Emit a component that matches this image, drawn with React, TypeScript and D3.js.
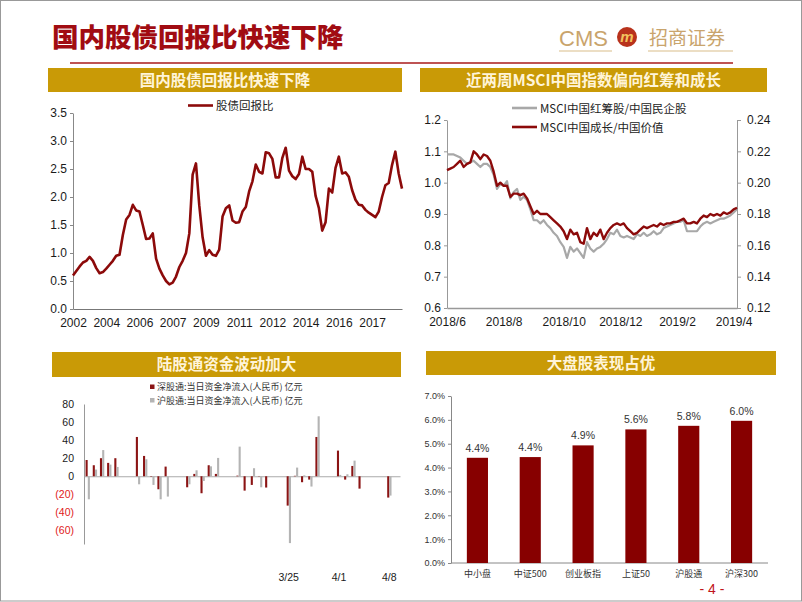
import { useEffect, useRef } from 'react';
import * as d3 from 'd3';

const RED = '#8c0a0a';
const GOLD = '#c99a06';
const GRAY = '#a8a8a8';
const SANS = '"Liberation Sans", Arial, sans-serif';
const CJK = '"Noto Sans CJK SC", sans-serif';

// panel 1: 股债回报比
const ratioTicks = ['2002', '2004', '2006', '2007', '2009', '2011', '2012', '2014', '2016', '2017'];
const stockBondRatio = [
  0.60, 0.68, 0.76, 0.83, 0.86, 0.93, 0.86, 0.73, 0.64, 0.66,
  0.72, 0.79, 0.86, 0.95, 0.97, 1.32, 1.60, 1.68, 1.86, 1.76,
  1.74, 1.50, 1.25, 1.26, 1.35, 0.90, 0.72, 0.60, 0.50, 0.44,
  0.47, 0.58, 0.75, 0.86, 1.00, 1.35, 2.40, 2.60, 1.85, 1.28,
  0.95, 1.05, 0.97, 0.95, 1.06, 1.65, 1.80, 1.85, 1.58, 1.54,
  1.55, 1.74, 1.82, 2.10, 2.28, 2.58, 2.45, 2.42, 2.80, 2.78,
  2.68, 2.35, 2.35, 2.70, 2.88, 2.47, 2.37, 2.32, 2.41, 2.72,
  2.50, 2.50, 2.45, 2.02, 1.80, 1.40, 1.55, 2.15, 2.08, 2.52,
  2.72, 2.42, 2.44, 2.36, 2.12, 1.95, 1.86, 1.85, 1.77, 1.72,
  1.68, 1.64, 1.74, 2.00, 2.21, 2.25, 2.57, 2.81, 2.42, 2.15,
];

// panel 2: MSCI
const msciTicks = ['2018/6', '2018/8', '2018/10', '2018/12', '2019/2', '2019/4'];
const msciTickIdx = [0, 17, 35, 52, 69, 86];
const redChipVsPrivate = [
  1.09, 1.09, 1.09, 1.085, 1.08, 1.07, 1.06, 1.065, 1.07, 1.06,
  1.05, 1.06, 1.06, 1.05, 1.025, 0.98, 0.995, 0.99, 1.005, 0.95,
  0.97, 0.98, 0.945, 0.955, 0.945, 0.915, 0.88, 0.88, 0.87, 0.88,
  0.865, 0.855, 0.84, 0.83, 0.81, 0.795, 0.76, 0.795, 0.78, 0.79,
  0.775, 0.76, 0.81, 0.79, 0.78, 0.79, 0.795, 0.805, 0.82, 0.84,
  0.835, 0.85, 0.83, 0.825, 0.83, 0.825, 0.82, 0.835, 0.83, 0.84,
  0.83, 0.835, 0.845, 0.835, 0.84, 0.855, 0.86, 0.865, 0.87, 0.875,
  0.875, 0.88, 0.845, 0.845, 0.845, 0.845, 0.86, 0.87, 0.875, 0.87,
  0.875, 0.88, 0.885, 0.885, 0.89, 0.895, 0.905, 0.915,
];
const growthVsValue = [
  0.208, 0.209, 0.210, 0.212, 0.214, 0.210, 0.212, 0.213, 0.220, 0.218,
  0.215, 0.218, 0.217, 0.214, 0.207, 0.198, 0.200, 0.198, 0.198, 0.191,
  0.193, 0.193, 0.192, 0.193, 0.190, 0.185, 0.180, 0.182, 0.180, 0.180,
  0.180, 0.178, 0.176, 0.174, 0.172, 0.169, 0.164, 0.170, 0.167, 0.168,
  0.162, 0.161, 0.171, 0.164, 0.168, 0.166, 0.170, 0.164, 0.168, 0.171,
  0.173, 0.174, 0.173, 0.174, 0.171, 0.169, 0.167, 0.168, 0.170, 0.172,
  0.171, 0.172, 0.173, 0.172, 0.174, 0.173, 0.174, 0.174, 0.175, 0.175,
  0.176, 0.177, 0.174, 0.174, 0.175, 0.174, 0.177, 0.179, 0.178, 0.180,
  0.179, 0.180, 0.179, 0.181, 0.180, 0.181, 0.183, 0.184,
];

// panel 3: 陆股通
const flowDates = [
  '2/25', '2/26', '2/27', '2/28', '3/1', '3/4', '3/5', '3/6', '3/7', '3/8',
  '3/11', '3/12', '3/13', '3/14', '3/15', '3/18', '3/19', '3/20', '3/21', '3/22',
  '3/25', '3/26', '3/27', '3/28', '3/29', '4/1', '4/2', '4/3', '4/4', '4/8',
];
const szConnect = [
  18, 12.2, 20, 14.8, 20, 43.5, 22.5, -0.5, -14.4, 10.7,
  -12.2, 2.6, -18.8, 12.2, 2.6, 0.7, -15.9, -9.6, 0.3, -12.5,
  -32.5, 0.5, -6.6, -3.7, 43.5, 28.4, -3.7, 11.4, -13.7, -23.6,
];
const shConnect = [
  -25.5, 7.4, 29, 12.9, 10.3, -8.9, 18.8, -9.6, -25.5, -22.5,
  -8.9, 6.6, -5.2, 11, 20.3, 32.8, 0.3, 8.9, -12.2, 0.3,
  -74, 9.6, 1, -11.4, 66.4, 1.5, 2.2, 17.3, 0.3, -21.4,
];
const flowLabels = ['3/25', '4/1', '4/8'];
const flowTicks = [-60, -40, -20, 0, 20, 40, 60, 80];

// panel 4: 大盘股
const sizeCats = ['中小盘', '中证500', '创业板指', '上证50', '沪股通', '沪深300'];
const sizeReturns = [4.41, 4.44, 4.93, 5.60, 5.75, 5.96];

const styleAxis = (g, color, size, fill = '#1a1a1a', family = SANS) => {
  g.selectAll('path, line').attr('stroke', color);
  g.selectAll('text').attr('font-size', size).attr('font-family', family).attr('fill', fill);
};

const App = () => {
  const svgRef = useRef(null);

  useEffect(() => {
    const svg = d3.select(svgRef.current);
    svg.selectAll('*').remove();

    svg.append('rect')
      .attr('x', 0.5).attr('y', 0.5).attr('width', 801).attr('height', 600.5)
      .attr('fill', '#fff').attr('stroke', '#999');

    // header
    svg.append('text')
      .attr('x', 52).attr('y', 47)
      .attr('font-family', CJK).attr('font-weight', 900).attr('font-size', 26.5)
      .attr('fill', '#a10c12')
      .text('国内股债回报比快速下降');

    const logo = svg.append('g');
    logo.append('text').attr('x', 559).attr('y', 46)
      .attr('font-family', SANS).attr('font-size', 22).attr('fill', '#c9a46c')
      .text('CMS');
    logo.append('circle').attr('cx', 627).attr('cy', 37).attr('r', 10).attr('fill', '#b8321c');
    logo.append('text').attr('x', 627).attr('y', 42).attr('text-anchor', 'middle')
      .attr('font-family', SANS).attr('font-style', 'italic').attr('font-weight', 700)
      .attr('font-size', 15).attr('fill', '#f2c25e').text('m');
    logo.append('text').attr('x', 649).attr('y', 45)
      .attr('font-family', CJK).attr('font-size', 19).attr('fill', '#c9a46c')
      .text('招商证券');
    logo.append('line').attr('x1', 559).attr('x2', 612).attr('y1', 51).attr('y2', 51)
      .attr('stroke', '#e6d3b0').attr('stroke-width', 1.5);
    logo.append('line').attr('x1', 648).attr('x2', 733).attr('y1', 51).attr('y2', 51)
      .attr('stroke', '#e6d3b0').attr('stroke-width', 1.5);

    svg.append('line').attr('x1', 70).attr('x2', 733).attr('y1', 63).attr('y2', 63)
      .attr('stroke', '#a81a1a').attr('stroke-width', 1.5);

    const titleBar = (x0, x1, y0, y1, label) => {
      svg.append('rect').attr('x', x0).attr('y', y0).attr('width', x1 - x0).attr('height', y1 - y0)
        .attr('fill', GOLD);
      svg.append('text').attr('x', (x0 + x1) / 2).attr('y', (y0 + y1) / 2 + 5.5)
        .attr('text-anchor', 'middle').attr('font-family', CJK).attr('font-weight', 600)
        .attr('font-size', 15.5).attr('fill', '#fff4d8').text(label);
    };
    titleBar(48, 402, 68, 92, '国内股债回报比快速下降');
    titleBar(420, 767, 68, 92, '近两周MSCI中国指数偏向红筹和成长');
    titleBar(52, 401, 352, 377, '陆股通资金波动加大');
    titleBar(426, 776, 351, 375, '大盘股表现占优');

    // panel 1
    const x1s = d3.scaleLinear().domain([0, stockBondRatio.length - 1]).range([73, 402]);
    const y1s = d3.scaleLinear().domain([0, 3.5]).range([309, 113]);
    const ya1 = svg.append('g').attr('transform', 'translate(73,0)')
      .call(d3.axisLeft(y1s).tickValues(d3.range(0, 3.51, 0.5)).tickFormat(d3.format('.1f'))
        .tickSize(3).tickPadding(3).tickSizeOuter(0));
    styleAxis(ya1, '#888', 12);
    const xa1 = svg.append('g').attr('transform', 'translate(0,309)')
      .call(d3.axisBottom(x1s).tickValues(d3.range(0, 100, 10))
        .tickFormat((d, i) => ratioTicks[i]).tickSize(0).tickPadding(9).tickSizeOuter(0));
    styleAxis(xa1, '#777', 12);
    svg.append('path').datum(stockBondRatio)
      .attr('d', d3.line().x((d, i) => x1s(i)).y(d => y1s(d)))
      .attr('fill', 'none').attr('stroke', RED).attr('stroke-width', 2.6).attr('stroke-linejoin', 'round');
    svg.append('line').attr('x1', 188).attr('x2', 213).attr('y1', 105.5).attr('y2', 105.5)
      .attr('stroke', RED).attr('stroke-width', 2.6);
    svg.append('text').attr('x', 216).attr('y', 110).attr('font-family', CJK).attr('font-size', 11.5)
      .attr('fill', '#222').text('股债回报比');

    // panel 2
    const x2s = d3.scaleLinear().domain([0, redChipVsPrivate.length - 1]).range([447, 737]);
    const y2l = d3.scaleLinear().domain([0.6, 1.2]).range([308, 120]);
    const y2r = d3.scaleLinear().domain([0.12, 0.24]).range([308, 120]);
    const ya2 = svg.append('g').attr('transform', 'translate(447,0)')
      .call(d3.axisLeft(y2l).ticks(6).tickFormat(d3.format('.1f')).tickSize(3).tickPadding(3).tickSizeOuter(0));
    styleAxis(ya2, '#999', 12);
    const yr2 = svg.append('g').attr('transform', 'translate(737,0)')
      .call(d3.axisRight(y2r).ticks(6).tickFormat(d3.format('.2f')).tickSize(4).tickPadding(6).tickSizeOuter(0));
    styleAxis(yr2, '#999', 12);
    const xa2 = svg.append('g').attr('transform', 'translate(0,308)')
      .call(d3.axisBottom(x2s).tickValues(msciTickIdx).tickFormat((d, i) => msciTicks[i])
        .tickSize(0).tickPadding(9).tickSizeOuter(0));
    styleAxis(xa2, '#999', 12);
    xa2.select('.domain').attr('stroke-width', 1.5);
    svg.append('path').datum(redChipVsPrivate)
      .attr('d', d3.line().x((d, i) => x2s(i)).y(d => y2l(d)))
      .attr('fill', 'none').attr('stroke', GRAY).attr('stroke-width', 2.2).attr('stroke-linejoin', 'round');
    svg.append('path').datum(growthVsValue)
      .attr('d', d3.line().x((d, i) => x2s(i)).y(d => y2r(d)))
      .attr('fill', 'none').attr('stroke', RED).attr('stroke-width', 2.4).attr('stroke-linejoin', 'round');
    [['MSCI中国红筹股/中国民企股', GRAY, 108], ['MSCI中国成长/中国价值', RED, 127]].forEach(([t, c, y]) => {
      svg.append('line').attr('x1', 512).attr('x2', 537).attr('y1', y).attr('y2', y)
        .attr('stroke', c).attr('stroke-width', 2.6);
      svg.append('text').attr('x', 540).attr('y', +y + 4.5).attr('font-family', CJK)
        .attr('font-size', 11.5).attr('fill', '#222').text(t);
    });

    // panel 3
    const days = d3.timeDay.range(new Date(2019, 1, 25), new Date(2019, 3, 10)).map(d3.timeFormat('%-m/%-d'));
    const x3 = d3.scaleBand().domain(days).range([84, 400]);
    const bw = x3.bandwidth();
    const sub = d3.scaleBand().domain(['sz', 'sh']).range([bw * 0.2, bw * 0.84]).padding(0.06);
    const y3 = d3.scaleLinear().domain([-75, 80]).range([544, 404]);
    const ya3 = svg.append('g').attr('transform', 'translate(84,0)')
      .call(d3.axisLeft(y3).tickValues(flowTicks).tickFormat(d => (d < 0 ? `(${-d})` : `${d}`))
        .tickSize(0).tickPadding(10).tickSizeOuter(0));
    styleAxis(ya3, '#999', 10.5);
    ya3.selectAll('text').attr('fill', d => (d < 0 ? '#e02020' : '#1a1a1a'));
    const zero3 = svg.append('g').attr('transform', `translate(0,${y3(0)})`)
      .call(d3.axisBottom(x3).tickValues([]).tickSizeOuter(0));
    styleAxis(zero3, '#aaa', 10);
    const xl3 = svg.append('g').attr('transform', 'translate(0,544)')
      .call(d3.axisBottom(x3).tickValues(flowLabels).tickSize(0).tickPadding(30).tickSizeOuter(0));
    styleAxis(xl3, 'none', 10.5);
    xl3.select('.domain').remove();
    [['sz', szConnect, '#8b1414'], ['sh', shConnect, '#b4b4b4']].forEach(([key, vals, color]) => {
      svg.append('g').selectAll('rect').data(vals).enter().append('rect')
        .attr('x', (d, i) => x3(flowDates[i]) + sub(key))
        .attr('y', d => y3(Math.max(0, d)))
        .attr('width', sub.bandwidth())
        .attr('height', d => Math.abs(y3(d) - y3(0)))
        .attr('fill', color);
    });
    [['深股通:当日资金净流入(人民币) 亿元', '#8b1414', 387], ['沪股通:当日资金净流入(人民币) 亿元', '#b4b4b4', 400.5]]
      .forEach(([t, c, y]) => {
        svg.append('rect').attr('x', 150).attr('y', +y - 2.5).attr('width', 4.5).attr('height', 4.5).attr('fill', c);
        svg.append('text').attr('x', 157).attr('y', +y + 3).attr('font-family', CJK)
          .attr('font-size', 9).attr('fill', '#333').text(t);
      });

    // panel 4
    const x4 = d3.scaleBand().domain(sizeCats).range([451, 768]).paddingInner(0.6).paddingOuter(0.3);
    const y4 = d3.scaleLinear().domain([0, 7]).range([563, 396]);
    const ya4 = svg.append('g').attr('transform', 'translate(451,0)')
      .call(d3.axisLeft(y4).ticks(7).tickFormat(d => `${d3.format('.1f')(d)}%`).tickSize(3).tickPadding(3).tickSizeOuter(0));
    styleAxis(ya4, '#888', 9, '#333');
    const xa4 = svg.append('g').attr('transform', 'translate(0,563)')
      .call(d3.axisBottom(x4).tickSize(0).tickPadding(8).tickSizeOuter(0));
    styleAxis(xa4, '#888', 9, '#333', CJK);
    xa4.select('.domain').attr('d', 'M451,0H768');
    svg.append('g').selectAll('rect').data(sizeReturns).enter().append('rect')
      .attr('x', (d, i) => x4(sizeCats[i]))
      .attr('y', d => y4(d))
      .attr('width', x4.bandwidth())
      .attr('height', d => y4(0) - y4(d))
      .attr('fill', '#870000');
    svg.append('g').selectAll('text').data(sizeReturns).enter().append('text')
      .attr('x', (d, i) => x4(sizeCats[i]) + x4.bandwidth() / 2)
      .attr('y', d => y4(d) - 6)
      .attr('text-anchor', 'middle').attr('font-family', SANS).attr('font-size', 10.5).attr('fill', '#333')
      .text(d => `${d3.format('.1f')(d)}%`);

    svg.append('text').attr('x', 712).attr('y', 594).attr('text-anchor', 'middle')
      .attr('font-family', SANS).attr('font-size', 14).attr('fill', '#c0141a').text('- 4 -');
  }, []);

  return (
    <svg ref={svgRef} width={802} height={602} style={{ position: 'absolute', left: 0, top: 0 }} />
  );
};

export default App;
